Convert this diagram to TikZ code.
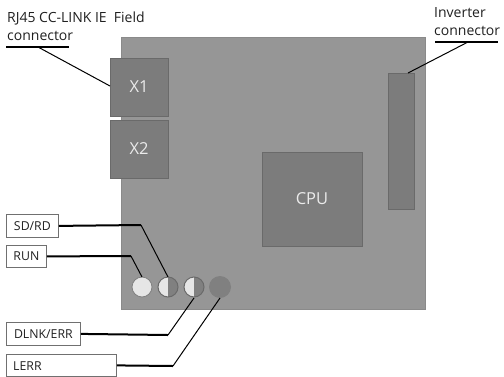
\documentclass[tikz,border=0pt]{standalone}
\usepackage{fontspec}
\setmainfont{Open Sans}
\definecolor{board}{HTML}{969696}
\definecolor{boardedge}{HTML}{8A8A8A}
\definecolor{block}{HTML}{7C7C7C}
\definecolor{blockedge}{HTML}{6A6A6A}
\definecolor{ledlight}{HTML}{E6E6E6}
\definecolor{leddark}{HTML}{808080}
\definecolor{boxedge}{HTML}{707070}
\definecolor{ink}{HTML}{202020}
\tikzset{
  x=1pt,y=-1pt,
  block/.style={draw=blockedge,fill=block,line width=1pt,minimum width=#1,inner sep=0pt,text=white!92!black,font=\fontsize{16.5}{18}\selectfont},
  tag/.style={draw=boxedge,fill=white,line width=.8pt,anchor=north west,inner sep=0pt},
  tagtext/.style={font=\fontsize{12.3}{14}\selectfont,text=ink,inner sep=0pt},
  lead/.style={line width=1pt,black},
  heavy/.style={line width=2pt,black},
  captext/.style={anchor=west,inner sep=0pt,font=\fontsize{14}{16}\selectfont,text=ink},
  led/.style={circle,minimum size=20pt,inner sep=0pt}
}
\begin{document}
\begin{tikzpicture}
\useasboundingbox (0,0) rectangle (504,376);
\node[draw=boardedge,fill=board,line width=.8pt,anchor=north west,minimum width=304pt,minimum height=272pt,inner sep=0pt] (board) at (121,37) {};
\node[block=58pt,minimum height=58pt] (x1) at (139,87) {X1};
\node[block=58pt,minimum height=58pt] (x2) at (139,149) {X2};
\node[block=100pt,minimum height=94pt] (cpu) at (312,199) {CPU};
\node[block=26pt,minimum height=136pt] (inv) at (401,141) {};
% LEDs
\node[led,fill=ledlight,draw=board!85!black,line width=.8pt] (l1) at (142,287) {};
\node[led,draw=none] (l2) at (168,287) {};
\fill[ledlight] (168,277) arc[start angle=90,delta angle=180,radius=10pt];
\fill[leddark] (168,277) arc[start angle=90,delta angle=-180,radius=10pt];
\draw[blockedge,line width=1pt] (l2.center) circle[radius=10pt];
\node[led,draw=none] (l3) at (194,287) {};
\fill[ledlight] (194,277) arc[start angle=90,delta angle=180,radius=10pt];
\fill[leddark] (194,277) arc[start angle=90,delta angle=-180,radius=10pt];
\draw[blockedge,line width=1pt] (l3.center) circle[radius=10pt];
\node[led,fill=leddark,draw=none,minimum size=22pt] (l4) at (220,287) {};
% tags
\node[tag,minimum width=52pt,minimum height=23pt] (sd) at (6,214) {};
\node[tagtext] at (sd.center) {SD/RD};
\node[tag,minimum width=40pt,minimum height=22pt] (run) at (6,245) {};
\node[tagtext] at (run.center) {RUN};
\node[tag,minimum width=74pt,minimum height=23pt] (dl) at (6,322) {};
\node[tagtext] at (dl.center) {DLNK/ERR};
\node[tag,minimum width=110pt,minimum height=22pt] (le) at (6,354) {};
\node[tagtext,anchor=west] at (13,366) {LERR};
% captions
\node[captext] (c1) at (7,18) {RJ45 CC-LINK IE\hspace{.25em} Field};
\node[captext] (c2) at (7,36) {connector};
\node[captext] (c3) at (434,13) {Inverter};
\node[captext] (c4) at (434,31) {connector};
% rules
\coordinate (r1a) at (6,46.5); \coordinate (r1b) at (69,46.5); \coordinate (r1c) at (38,47);
\coordinate (r2a) at (435,42); \coordinate (r2b) at (498,42); \coordinate (r2c) at (468,42);
\draw[heavy] (r1a) -- (r1b);
\draw[heavy] (r2a) -- (r2b);
\coordinate (p1) at (110,86);
\draw[lead] (r1c) -- (p1);
\coordinate (p2) at (408,73);
\draw[lead] (r2c) -- (p2);
% leaders
\coordinate (a1) at (141,225); \coordinate (a2) at (168,277);
\draw[heavy] (sd.east) -- (a1);
\draw[lead] (a1) -- (a2);
\coordinate (b1) at (131,256); \coordinate (b2) at (142,277);
\draw[heavy] (run.east) -- (b1);
\draw[lead] (b1) -- (b2);
\coordinate (d1) at (168,335); \coordinate (d2) at (194,298);
\draw[heavy] (dl.east) -- (d1);
\draw[lead] (d1) -- (d2);
\coordinate (e1) at (173,366); \coordinate (e2) at (220,298);
\draw[heavy] (le.east) -- (e1);
\draw[lead] (e1) -- (e2);
\end{tikzpicture}
\end{document}
